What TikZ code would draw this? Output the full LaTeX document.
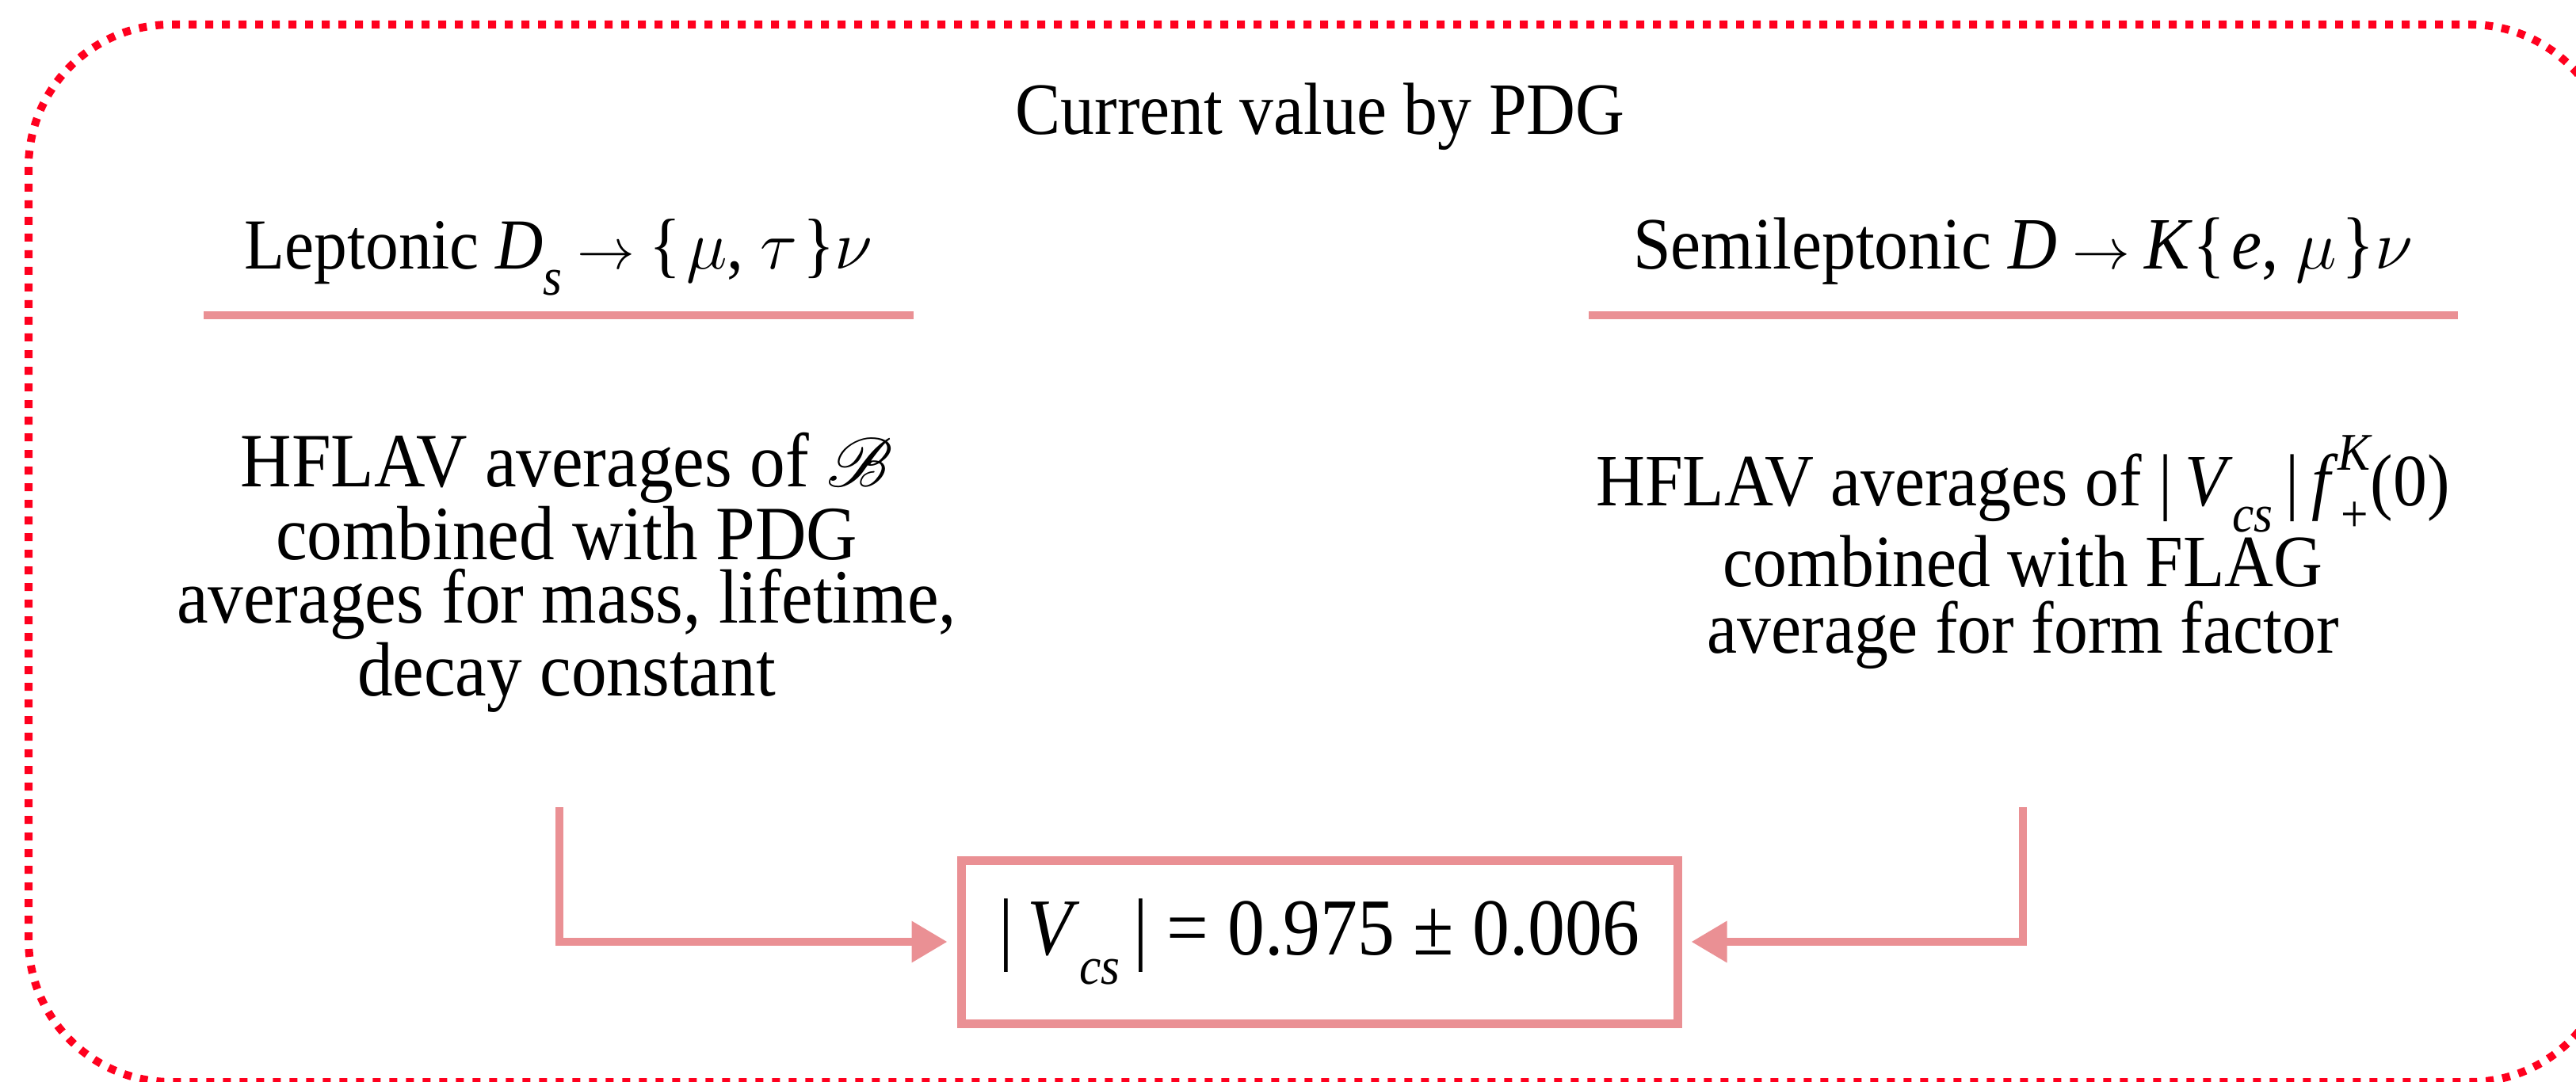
\documentclass[tikz,border=0pt]{standalone}
\usepackage{fontspec}
\setmainfont{Liberation Serif}[FakeStretch=0.92]
\usepackage{mathrsfs}
\usetikzlibrary{arrows.meta}
\definecolor{framered}{RGB}{255,0,30}
\definecolor{pinkc}{RGB}{234,144,148}
\newcommand\lowsub[1]{\raisebox{-0.36em}{\fontsize{19}{19}\selectfont\itshape #1}}
\newcommand\hisup[1]{\raisebox{0.48em}{\fontsize{19}{19}\selectfont\itshape #1}}
\newcommand\rarr{\kern0.2em{\fontsize{22}{22}\selectfont$\rightarrow$}\kern0.2em}
\tikzset{
  frame/.style={draw=framered, line width=0.1cm, dash pattern=on 0.1cm off 0.11cm, rounded corners=1.8cm},
  rulel/.style={draw=pinkc, line width=0.1cm},
  conn/.style={draw=pinkc, line width=0.1cm, shorten >=0.12cm, -{Triangle[length=0.45cm,width=0.5cm]}},
  result/.style={draw=pinkc, line width=0.11cm, minimum width=9.04cm, minimum height=2.06cm, inner sep=0pt, font=\fontsize{29}{30}\selectfont},
  head/.style={anchor=base, inner sep=0pt, font=\fontsize{26.5}{30}\selectfont},
  bodyl/.style={align=center, inner sep=0pt, font=\fontsize{27.6}{22.8}\selectfont},
  bodyr/.style={align=center, inner sep=0pt, font=\fontsize{26.5}{23.8}\selectfont}
}
\begin{document}
\begin{tikzpicture}
\useasboundingbox (0,0) rectangle (32.51,13.65);
\clip (0,0) rectangle (32.51,13.65);
\draw[frame] (0.36,13.34) rectangle (32.97,-0.01);

\node[head] (title) at (16.66,11.95) {Current value by PDG};

\node[head, font=\fontsize{25.8}{30}\selectfont] (lhead) at (7.05,10.25) {Leptonic \textit{D}\lowsub{s}\rarr\{\kern0.08em$\mu$, $\tau$\kern0.08em\}$\nu$};
\node[head] (rhead) at (25.53,10.25) {Semileptonic \textit{D}\rarr\textit{K}\{\kern0.08em\textit{e}, $\mu$\kern0.08em\}$\nu$};

\coordinate (l1) at (2.57,9.67);
\coordinate (l2) at (11.53,9.67);
\coordinate (r1) at (20.05,9.67);
\coordinate (r2) at (31.02,9.67);
\draw[rulel] (l1) -- (l2);
\draw[rulel] (r1) -- (r2);

\node[bodyl] (lbody) at (7.15,6.42) {HFLAV averages of {\fontsize{32}{32}\selectfont$\mathscr{B}$}\\combined with PDG\\averages for mass, lifetime,\\decay constant};
\node[bodyr] (rbody) at (25.53,6.68) {HFLAV averages of |\,\textit{V}\lowsub{cs}\,|\,\textit{f}\makebox[0pt][l]{\lowsub{+}}\hisup{K}(0)\\combined with FLAG\\average for form factor};

\node[result] (res) at (16.65,1.76) {|\,\textit{V}\lowsub{cs}\,| = 0.975 ± 0.006};

\coordinate (la) at (7.055,3.46);
\coordinate (ra) at (25.53,3.46);
\draw[conn] (la) |- (res.west);
\draw[conn] (ra) |- (res.east);
\end{tikzpicture}
\end{document}
